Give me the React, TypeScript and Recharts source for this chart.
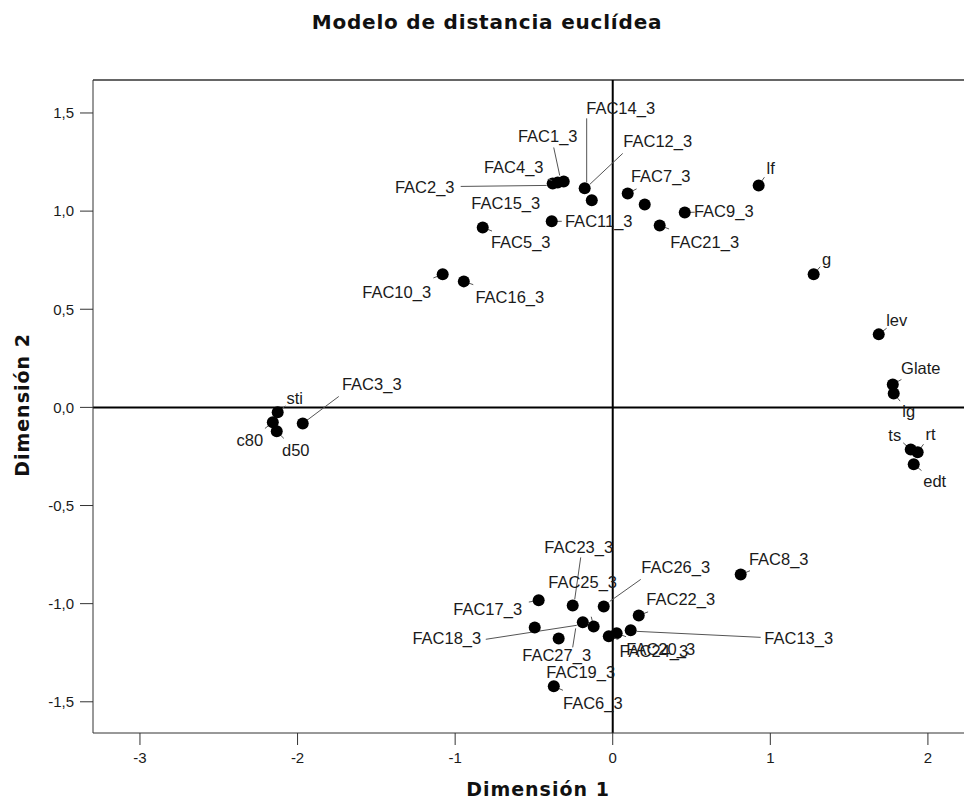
import { ScatterChart, Scatter, XAxis, YAxis, ReferenceLine } from 'recharts';

// MDS stimulus coordinates (Dimension 1 / Dimension 2)
const names = [
	'FAC1_3', 'FAC2_3', 'FAC3_3', 'FAC4_3', 'FAC5_3', 'FAC6_3', 'FAC7_3', 'FAC8_3', 'FAC9_3',
	'FAC10_3', 'FAC11_3', 'FAC12_3', 'FAC13_3', 'FAC14_3', 'FAC15_3', 'FAC16_3', 'FAC17_3', 'FAC18_3',
	'FAC19_3', 'FAC20_3', 'FAC21_3', 'FAC22_3', 'FAC23_3', 'FAC24_3', 'FAC25_3', 'FAC26_3', 'FAC27_3',
	'lf', 'g', 'lev', 'Glate', 'lg', 'ts', 'rt', 'edt', 'sti', 'c80', 'd50'
];
const dim1 = [
	-0.311, -0.381, -1.967, -0.349, -0.825, -0.374, 0.095, 0.812, 0.457,
	-1.079, -0.387, 0.203, 0.114, -0.178, -0.133, -0.945, -0.47, -0.19,
	-0.495, 0.025, 0.298, 0.165, -0.254, -0.025, -0.121, -0.057, -0.343,
	0.926, 1.275, 1.688, 1.777, 1.783, 1.891, 1.935, 1.91, -2.126, -2.157, -2.132
];
const dim2 = [
	1.151, 1.141, -0.082, 1.146, 0.917, -1.421, 1.09, -0.851, 0.993,
	0.678, 0.948, 1.034, -1.136, 1.116, 1.055, 0.642, -0.983, -1.095,
	-1.121, -1.151, 0.927, -1.06, -1.009, -1.166, -1.116, -1.014, -1.177,
	1.131, 0.678, 0.372, 0.117, 0.071, -0.214, -0.229, -0.29, -0.025, -0.076, -0.122
];
const xTicks = [-3, -2, -1, 0, 1, 2];
const yTicks = [-1.5, -1, -0.5, 0, 0.5, 1, 1.5];

// label placement relative to each dot: [dx, dy, (leader x1, y1, x2, y2)]
const labelPos: Record<string, number[]> = {
	FAC1_3: [-16, -45, -10, -34, -4, -6],
	FAC2_3: [-128, 4, -92, 3, -6, 2],
	FAC3_3: [69, -39, 36, -27, 4, -3],
	FAC4_3: [-44, -15],
	FAC5_3: [38, 15],
	FAC6_3: [39, 17],
	FAC7_3: [33, -17],
	FAC8_3: [38, -15],
	FAC9_3: [39, -1],
	FAC10_3: [-46, 18],
	FAC11_3: [47, 0],
	FAC12_3: [13, -63, -22, -51, -55, -20],
	FAC13_3: [168, 8, 130, 7, 6, 1],
	FAC14_3: [36, -80, 2, -70, 2, -6],
	FAC15_3: [-86, 3],
	FAC16_3: [46, 16],
	FAC17_3: [-51, 9],
	FAC18_3: [-136, 16, -97, 17, -6, 3],
	FAC19_3: [46, 45],
	FAC20_3: [44, 16],
	FAC21_3: [45, 17],
	FAC22_3: [42, -16],
	FAC23_3: [6, -58, 8, -48, 2, -6],
	FAC24_3: [45, 15],
	FAC25_3: [-11, -44],
	FAC26_3: [72, -39, 37, -27, 6, -5],
	FAC27_3: [-2, 17, 14, 9, 17, -10],
	lf: [12, -17],
	g: [13, -15],
	lev: [18, -14],
	Glate: [28, -16],
	lg: [15, 18],
	ts: [-16, -14],
	rt: [13, -18],
	edt: [21, 17],
	sti: [17, -14],
	c80: [-23, 18],
	d50: [19, 19]
};

const points = names.map((name, i) => ({ name, x: dim1[i], y: dim2[i] }));

const font = '"Liberation Sans", Arial, sans-serif';

const Dot = (props: any) => {
	const { cx, cy, payload } = props;
	const p = labelPos[payload.name] || [10, -10];
	const [dx, dy] = p;
	let line = null;
	if (p.length === 6) {
		line = <line x1={cx + p[2]} y1={cy + p[3]} x2={cx + p[4]} y2={cy + p[5]} stroke='#555' strokeWidth={1} />;
	} else {
		const d = Math.hypot(dx, dy);
		if (d < 60) {
			line = <line x1={cx} y1={cy} x2={cx + (dx / d) * 10} y2={cy + (dy / d) * 10} stroke='#555' strokeWidth={1} />;
		}
	}
	return (
		<g>
			{line}
			<circle cx={cx} cy={cy} r={6} fill='#000' />
			<text
				x={cx + dx}
				y={cy + dy}
				textAnchor='middle'
				dominantBaseline='central'
				fontFamily={font}
				fontSize={16.5}
				fill='#1a1a1a'
			>
				{payload.name}
			</text>
		</g>
	);
};

const fmt = (v: number) => (Number.isInteger(v) && Math.abs(v) >= 1 ? v.toFixed(1) : v.toFixed(1)).replace('.', ',');

const App = () => {
	return (
		<div style={{ position: 'absolute', left: 0, top: 0, width: 964, height: 800, background: '#fff' }}>
			<ScatterChart width={964} height={800} margin={{ top: 80, right: 0, bottom: 0, left: 0 }}>
				<XAxis
					type='number'
					dataKey='x'
					domain={[-3.298, 2.229]}
					ticks={xTicks}
					allowDataOverflow
					height={67}
					tickSize={12}
					tickMargin={7}
					stroke='#333'
					tick={{ fill: '#1a1a1a', fontSize: 15, fontFamily: font }}
				/>
				<YAxis
					type='number'
					dataKey='y'
					domain={[-1.659, 1.668]}
					ticks={yTicks}
					allowDataOverflow
					width={93}
					tickSize={13}
					tickMargin={6}
					tickFormatter={fmt}
					stroke='#333'
					tick={{ fill: '#1a1a1a', fontSize: 15, fontFamily: font }}
				/>
				<ReferenceLine y={1.668} stroke='#333' strokeWidth={1.5} />
				<ReferenceLine x={0} stroke='#000' strokeWidth={2} />
				<ReferenceLine y={0} stroke='#000' strokeWidth={2} />
				<Scatter data={points} shape={Dot} isAnimationActive={false} />
			</ScatterChart>
			<svg width={964} height={800} style={{ position: 'absolute', left: 0, top: 0, pointerEvents: 'none' }}>
				<text x={487} y={29} textAnchor='middle' fontFamily='"DejaVu Sans", sans-serif' fontWeight='bold' fontSize={20} letterSpacing={0.8} fill='#111'>
					Modelo de distancia euclídea
				</text>
				<text x={538} y={796} textAnchor='middle' fontFamily='"DejaVu Sans", sans-serif' fontWeight='bold' fontSize={19} letterSpacing={1} fill='#111'>
					Dimensión 1
				</text>
				<text
					x={22}
					y={405}
					transform='rotate(-90 22 405)'
					textAnchor='middle'
					dominantBaseline='central'
					fontFamily='"DejaVu Sans", sans-serif'
					fontWeight='bold'
					fontSize={19}
					letterSpacing={1}
					fill='#111'
				>
					Dimensión 2
				</text>
			</svg>
		</div>
	);
};

export default App;
